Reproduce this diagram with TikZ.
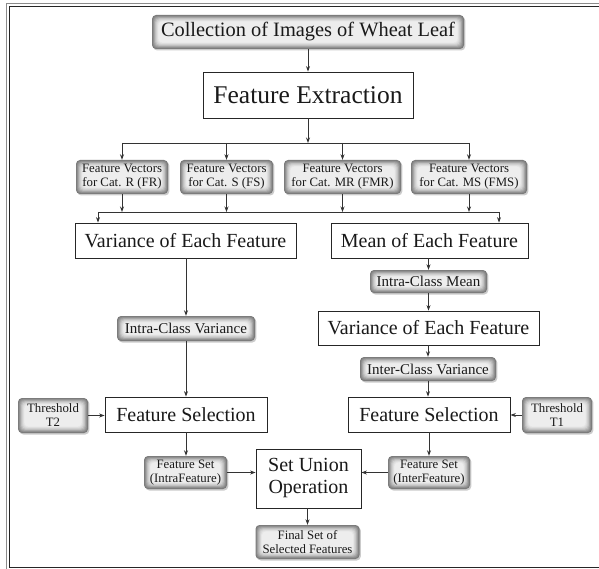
\documentclass[tikz,border=0pt]{standalone}
\usepackage{fontspec}
\setmainfont{Liberation Serif}
\usetikzlibrary{arrows.meta,shadows}

\tikzset{
  fs20/.style={font=\fontsize{20}{22}\selectfont},
  plainbox/.style={draw=black!85, line width=0.8pt, fill=white, inner sep=0pt,
    align=center, text=black!90, fs20},
  softbox/.style={rounded corners=4pt, inner sep=0pt, align=center, text=black!90,
    fill=black!52,
    drop shadow={shadow xshift=1.3pt, shadow yshift=-1.5pt, fill=black!45, opacity=0.45},
    path picture={
      \foreach \k/\c in {1/46,2/39,3/32,4/25,5/19,6/14,7/10,8/7}{
        \fill[black!\c, rounded corners=4pt]
          ([xshift=\k*0.8pt,yshift=\k*0.8pt]path picture bounding box.south west)
          rectangle
          ([xshift=-\k*0.8pt,yshift=-\k*0.8pt]path picture bounding box.north east);
      }}},
  smallbox/.style={softbox, font=\fontsize{12.8}{14}\selectfont},
  midbox/.style={softbox, font=\fontsize{15}{16}\selectfont},
  link/.style={draw=black!80, line width=0.8pt},
  arr/.style={link, -{Stealth[length=5.5pt,width=4pt]}},
}

\begin{document}
\begin{tikzpicture}[x=1pt, y=-1pt]
  \useasboundingbox (0,0) rectangle (599,569);

  % page frame
  \draw[black!45, line width=1.2pt] (6.5,569) -- (6.5,3.5) -- (599,3.5);
  \draw[black!85, line width=1pt] (9.5,567.5) -- (9.5,6.5) -- (599,6.5);
  \draw[black!85, line width=1.4pt] (9.5,567.5) -- (599,567.5);

  % top of the flow
  \node[softbox, font=\fontsize{20.4}{22}\selectfont, minimum width=312pt, minimum height=34pt]
    (coll) at (308,32) {Collection of Images of Wheat Leaf};
  \node[plainbox, font=\fontsize{25.5}{28}\selectfont, minimum width=210pt, minimum height=46pt]
    (fe) at (308,95) {Feature Extraction};

  % feature vectors per category
  \node[smallbox, minimum width=92pt, minimum height=34pt] (fr)  at (122,177)   {Feature Vectors\\for Cat. R (FR)};
  \node[smallbox, minimum width=93pt, minimum height=34pt] (fs)  at (226.5,177) {Feature Vectors\\for Cat. S (FS)};
  \node[smallbox, minimum width=117pt, minimum height=34pt] (fmr) at (342.5,177) {Feature Vectors\\for Cat. MR (FMR)};
  \node[smallbox, minimum width=116pt, minimum height=34pt] (fms) at (469,177)   {Feature Vectors\\for Cat. MS (FMS)};

  % left branch
  \node[plainbox, minimum width=221pt, minimum height=35pt] (var1) at (185.5,240.5) {Variance of Each Feature};
  \node[midbox, minimum width=138pt, minimum height=25pt] (icv) at (186,328.5) {Intra-Class Variance};
  \node[plainbox, minimum width=162pt, minimum height=35pt] (fsl) at (186,414.5) {Feature Selection};
  \node[smallbox, minimum width=70pt, minimum height=35pt] (t2) at (53,415.5) {Threshold\\T2};
  \node[smallbox, minimum width=83pt, minimum height=33pt] (fsi) at (185.5,472.5) {Feature Set\\(IntraFeature)};

  % right branch
  \node[plainbox, minimum width=197pt, minimum height=35pt] (mean) at (429.5,240.5) {Mean of Each Feature};
  \node[midbox, minimum width=117pt, minimum height=23pt] (icm) at (428.5,281.5) {Intra-Class Mean};
  \node[plainbox, minimum width=221pt, minimum height=34pt] (var2) at (428.5,328) {Variance of Each Feature};
  \node[midbox, minimum width=136pt, minimum height=24pt] (icv2) at (428,369) {Inter-Class Variance};
  \node[plainbox, minimum width=162pt, minimum height=35pt] (fsr) at (429,414.5) {Feature Selection};
  \node[smallbox, minimum width=70pt, minimum height=36pt] (t1) at (557,415) {Threshold\\T1};
  \node[smallbox, minimum width=82pt, minimum height=33pt] (fse) at (429,472.5) {Feature Set\\(InterFeature)};

  % merge
  \node[plainbox, minimum width=105pt, minimum height=59pt] (union) at (308.5,478.5) {Set Union\\Operation};
  \node[smallbox, minimum width=104pt, minimum height=34pt] (final) at (307.5,542) {Final Set of\\Selected Features};

  % connectors
  \coordinate (bus1) at (0,143);
  \coordinate (bus2) at (0,212);
  \coordinate (bl) at (98,212);
  \coordinate (br) at (499,212);

  \draw[arr] (coll.south) -- (fe.north);
  \draw[arr] (fe.south) -- (fe.south |- bus1);
  \draw[link] (fr.north |- bus1) -- (fms.north |- bus1);
  \foreach \n in {fr,fs,fmr,fms}{
    \draw[arr] (\n.north |- bus1) -- (\n.north);
    \draw[arr] (\n.south) -- (\n.south |- bus2);
  }
  \draw[link] (bl) -- (br);
  \draw[arr] (bl) -- (bl |- var1.north);
  \draw[arr] (br) -- (br |- mean.north);

  \draw[arr] (var1.south -| icv.north) -- (icv.north);
  \draw[arr] (icv.south) -- (icv.south |- fsl.north);
  \draw[arr] (t2.east) -- (t2.east -| fsl.west);
  \draw[arr] (fsl.south) -- (fsl.south |- fsi.north);
  \draw[arr] (fsi.east) -- (fsi.east -| union.west);

  \draw[arr] (mean.south -| icm.north) -- (icm.north);
  \draw[arr] (icm.south) -- (icm.south |- var2.north);
  \draw[arr] (var2.south -| icv2.north) -- (icv2.north);
  \draw[arr] (icv2.south) -- (icv2.south |- fsr.north);
  \draw[arr] (t1.west) -- (t1.west -| fsr.east);
  \draw[arr] (fsr.south) -- (fsr.south |- fse.north);
  \draw[arr] (fse.west) -- (fse.west -| union.east);

  \draw[arr] (union.south -| final.north) -- (final.north);
\end{tikzpicture}
\end{document}
